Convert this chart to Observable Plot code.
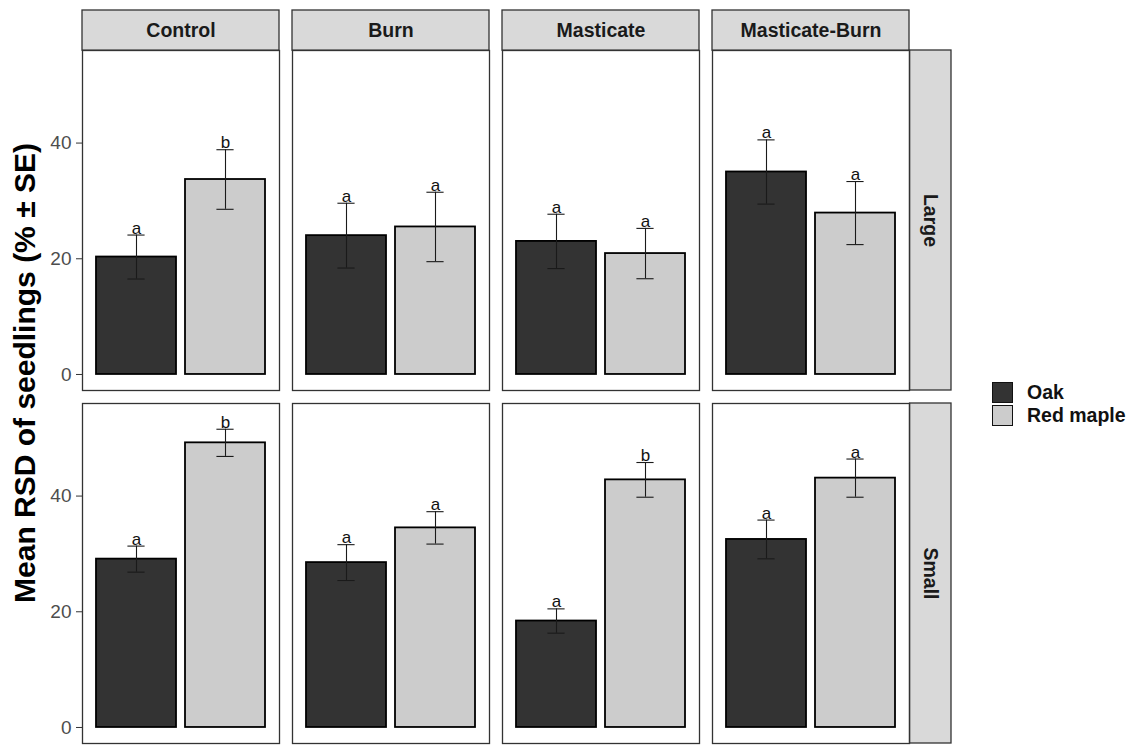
<!DOCTYPE html>
<html>
<head>
<meta charset="utf-8">
<script src="https://cdn.jsdelivr.net/npm/d3@7"></script>
<script src="https://cdn.jsdelivr.net/npm/@observablehq/plot@0.6"></script>
<style>
  html, body { margin: 0; padding: 0; background: #fff; }
  #wrap { position: relative; width: 1139px; height: 745px; font-family: "Liberation Sans", Arial, sans-serif; }
  #chart svg { position: absolute; left: 0; top: 0; }
  #ytitle { position: absolute; left: 25px; top: 373px; transform: translate(-50%, -50%) rotate(-90deg);
    font-weight: bold; font-size: 30px; color: #000; white-space: nowrap; }
  #legend { position: absolute; left: 992px; top: 381px; }
  .key { display: flex; align-items: center; height: 23px; }
  .sw { width: 19px; height: 19px; border: 1.5px solid #111; box-sizing: content-box; margin-right: 14px; }
  .lab { font-weight: bold; font-size: 19.5px; color: #111; }
</style>
</head>
<body>
<div id="wrap">
  <div id="chart"></div>
  <div id="ytitle">Mean RSD of seedlings (% ± SE)</div>
  <div id="legend"></div>
</div>
<script>
const treatments = ["Control", "Burn", "Masticate", "Masticate-Burn"];
const sizes = ["Large", "Small"];
const species = ["Oak", "Red maple"];
const speciesColors = ["#333333", "#cccccc"];

// values in treatment order
const largeOakMean = [20.3, 24.0, 23.0, 35.0];
const largeOakSE = [3.8, 5.6, 4.7, 5.55];
const largeOakLetter = ["a", "a", "a", "a"];
const largeMapleMean = [33.7, 25.5, 20.9, 27.9];
const largeMapleSE = [5.15, 6.0, 4.35, 5.45];
const largeMapleLetter = ["b", "a", "a", "a"];
const smallOakMean = [29.1, 28.5, 18.4, 32.5];
const smallOakSE = [2.25, 3.1, 2.1, 3.35];
const smallOakLetter = ["a", "a", "a", "a"];
const smallMapleMean = [49.2, 34.5, 42.8, 43.1];
const smallMapleSE = [2.35, 2.8, 3.0, 3.3];
const smallMapleLetter = ["b", "a", "b", "a"];

const series = [
  {size: "Large", sp: "Oak", mean: largeOakMean, se: largeOakSE, letter: largeOakLetter},
  {size: "Large", sp: "Red maple", mean: largeMapleMean, se: largeMapleSE, letter: largeMapleLetter},
  {size: "Small", sp: "Oak", mean: smallOakMean, se: smallOakSE, letter: smallOakLetter},
  {size: "Small", sp: "Red maple", mean: smallMapleMean, se: smallMapleSE, letter: smallMapleLetter}
];
const data = [];
for (const s of series) {
  treatments.forEach((t, i) => {
    data.push({treatment: t, size: s.size, species: s.sp, mean: s.mean[i], se: s.se[i],
      lo: s.mean[i] - s.se[i], hi: s.mean[i] + s.se[i], letter: s.letter[i]});
  });
}

const W = 1139, H = 745;
const mL = 80, mR = 229, mT = 50, mB = 2;
const fxPad = 0.063, fyPad = 0.0377;
const fxStep = (W - mL - mR) / (treatments.length - fxPad);
const panelW = fxStep * (1 - fxPad);
const fyStep = (H - mT - mB) / (sizes.length - fyPad);
const panelH = fyStep * (1 - fyPad);
const stripH = 40, rowStripW = 42;
const xBand = panelW / (2 + 0.3 - 0.1) * 0.9; // bar width
const whisker = 18;
const font = "Liberation Sans, Arial, sans-serif";

const plot = Plot.plot({
  width: W, height: H,
  marginLeft: mL, marginRight: mR, marginTop: mT, marginBottom: mB,
  style: {fontFamily: font, background: "transparent"},
  fx: {domain: treatments, axis: null, paddingInner: fxPad, paddingOuter: 0},
  fy: {domain: sizes, axis: null, paddingInner: fyPad, paddingOuter: 0},
  x: {domain: species, axis: null, paddingInner: 0.1, paddingOuter: 0.15},
  y: {domain: [-2.77, 56.0], axis: null},
  color: {domain: species, range: speciesColors},
  marks: [
    // column strips
    Plot.rect(treatments, {fx: d => d, fy: () => "Large", fill: "#d9d9d9", stroke: "#333333", strokeWidth: 1.3,
      insetTop: -stripH, insetBottom: panelH}),
    Plot.text(treatments, {fx: d => d, fy: () => "Large", text: d => d, frameAnchor: "top", lineAnchor: "middle",
      dy: -stripH / 2, fontWeight: "bold", fontSize: 19.5, fill: "#1a1a1a"}),
    // row strips
    Plot.rect(sizes, {fy: d => d, fx: () => "Masticate-Burn", fill: "#d9d9d9", stroke: "#333333", strokeWidth: 1.3,
      insetLeft: panelW, insetRight: -rowStripW}),
    Plot.text(sizes, {fy: d => d, fx: () => "Masticate-Burn", text: d => d, frameAnchor: "right", textAnchor: "middle",
      lineAnchor: "middle", dx: rowStripW / 2, rotate: 90, fontWeight: "bold", fontSize: 19.5, fill: "#1a1a1a"}),
    Plot.frame({stroke: "#333333", strokeWidth: 1.3}),
    Plot.barY(data, {fx: "treatment", fy: "size", x: "species", y: "mean", fill: "species",
      stroke: "#000", strokeWidth: 1.8}),
    Plot.ruleX(data, {fx: "treatment", fy: "size", x: "species", y1: "lo", y2: "hi", stroke: "#1a1a1a", strokeWidth: 1.1}),
    Plot.tickY(data, {fx: "treatment", fy: "size", x: "species", y: "hi", stroke: "#1a1a1a", strokeWidth: 1.1,
      insetLeft: (xBand - whisker) / 2, insetRight: (xBand - whisker) / 2}),
    Plot.tickY(data, {fx: "treatment", fy: "size", x: "species", y: "lo", stroke: "#1a1a1a", strokeWidth: 1.1,
      insetLeft: (xBand - whisker) / 2, insetRight: (xBand - whisker) / 2}),
    Plot.text(data, {fx: "treatment", fy: "size", x: "species", y: "hi", text: "letter",
      lineAnchor: "bottom", dy: -1.5, fontSize: 17, fill: "#111"}),
    Plot.axisY({ticks: [0, 20, 40], tickSize: 6, tickPadding: 5, fontSize: 19, color: "#4d4d4d",
      stroke: "#333333", label: null})
  ]
});
document.getElementById("chart").appendChild(plot);

const legend = document.getElementById("legend");
species.forEach((s, i) => {
  const row = document.createElement("div");
  row.className = "key";
  const sw = document.createElement("div");
  sw.className = "sw";
  sw.style.background = speciesColors[i];
  const lab = document.createElement("span");
  lab.className = "lab";
  lab.textContent = s;
  row.appendChild(sw); row.appendChild(lab);
  legend.appendChild(row);
});
</script>
</body>
</html>
